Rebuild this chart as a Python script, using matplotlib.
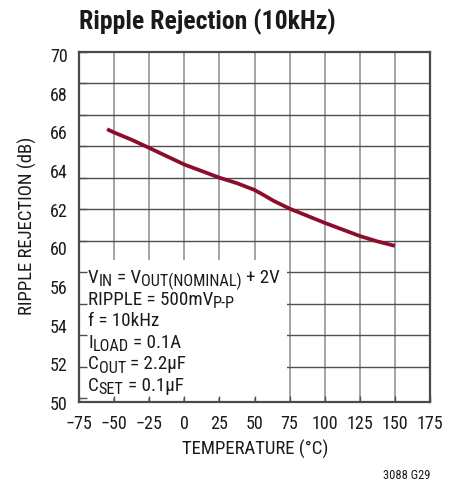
import matplotlib
matplotlib.use("Agg")
import matplotlib.pyplot as plt
from matplotlib import font_manager
from matplotlib.patches import Rectangle
import numpy as np

# Pick a condensed sans face if one is installed
def pick_font(cands):
    for c in cands:
        try:
            font_manager.findfont(c, fallback_to_default=False)
            return c
        except Exception:
            continue
    return "DejaVu Sans"

FONT = pick_font(["Liberation Sans Narrow", "Roboto Condensed", "Liberation Sans", "Roboto"])
plt.rcParams["font.family"] = [FONT, "DejaVu Sans"]

# Ripple rejection vs temperature
temperature_c = [-55, -50, -37.5, -25, 0, 25, 37.5, 50, 56, 63.4, 75, 100, 125, 137, 150]
ripple_rejection_db = [65.54, 65.35, 64.93, 64.46, 63.50, 62.74, 62.42, 62.03, 61.76, 61.41,
                       60.95, 60.13, 59.37, 59.07, 58.80]

x_ticks = [-75, -50, -25, 0, 25, 50, 75, 100, 125, 150, 175]
x_tick_labels = ["\u221275", "\u221250", "\u221225", "0", "25", "50", "75", "100", "125", "150", "175"]
y_tick_labels = ["70", "68", "66", "64", "62", "60", "56", "54", "52", "50"]

# test conditions: (text, is_subscript) runs per line
conditions = [
    [("V", 0), ("IN", 1), (" = V", 0), ("OUT(NOMINAL)", 1), (" + 2V", 0)],
    [("RIPPLE = 500mV", 0), ("P-P", 1)],
    [("f = 10kHz", 0)],
    [("I", 0), ("LOAD", 1), (" = 0.1A", 0)],
    [("C", 0), ("OUT", 1), (" = 2.2\u00b5F", 0)],
    [("C", 0), ("SET", 1), (" = 0.1\u00b5F", 0)],
]

W, H = 450, 489
fig = plt.figure(figsize=(W / 100, H / 100), dpi=100)
ax = fig.add_axes([79 / W, 1 - 403 / H, 351 / W, 350 / H])

ax.set_xlim(-75, 175)
ax.set_ylim(50, 70)

# grid: vertical lines light, horizontal lines darker
for xv in x_ticks[1:-1]:
    ax.axvline(xv, color="#9c9c9c", lw=1.3, zorder=1)
grid_y = np.linspace(50, 70, 12)
for yv in grid_y[1:-1]:
    ax.axhline(yv, color="#505050", lw=1.0, zorder=1)

# white panel behind the test conditions
ax.add_patch(Rectangle((-75, 50), 148, 8.0, facecolor="white", edgecolor="none", zorder=1.5))

ax.plot(temperature_c, ripple_rejection_db, color="#8b0d2c", lw=2.7,
        solid_capstyle="butt", solid_joinstyle="round", zorder=3)

ax.set_xticks(x_ticks)
ax.set_xticklabels(x_tick_labels)
ax.set_yticks(np.linspace(69.88, 49.78, 10))
ax.set_yticklabels(y_tick_labels)
ax.set_yticks(grid_y, minor=True)
ax.tick_params(axis="y", which="major", length=0, pad=8, labelsize=13, labelcolor="#1a1a1a")
ax.tick_params(axis="y", which="minor", direction="in", length=6, width=1, color="#505050")
ax.tick_params(axis="x", which="major", direction="in", length=4, width=1, color="#505050",
               pad=9, labelsize=13, labelcolor="#1a1a1a")

for s in ax.spines.values():
    s.set_color("#4a4a4a")
    s.set_linewidth(1.6)
    s.set_zorder(4)

fig.text(255 / W, 1 - 449 / H, "TEMPERATURE (\u00b0C)", fontsize=13.5, color="#1a1a1a",
         ha="center", va="center")
fig.text(27 / W, 1 - 226 / H, "RIPPLE REJECTION (dB)", fontsize=13.5, color="#1a1a1a",
         ha="center", va="center", rotation=90)

fig.text(79 / W, 1 - 29.5 / H, "Ripple Rejection (10kHz)", fontsize=18.5, fontweight="bold",
         color="#1a1a1a", ha="left", va="baseline")
fig.text(430 / W, 1 - 475.5 / H, "3088 G29", fontsize=9, color="#1a1a1a",
         ha="right", va="center")

# lay out the condition lines run by run, with subscripts dropped and shrunk
renderer = fig.canvas.get_renderer()
MAIN_FS, SUB_FS = 13.7, 11.7

def text_width(s, fs):
    t = fig.text(0, 0, s, fontsize=fs)
    w = t.get_window_extent(renderer).width
    t.remove()
    return w

space_w = {fs: text_width("a a", fs) - text_width("aa", fs) for fs in (MAIN_FS, SUB_FS)}

x0, base0, step = 88.0, 283.0, 21.6
for i, runs in enumerate(conditions):
    x = x0
    base = base0 + i * step
    for s, sub in runs:
        fs = SUB_FS if sub else MAIN_FS
        lead = len(s) - len(s.lstrip(" "))
        trail = len(s) - len(s.rstrip(" "))
        core = s.strip(" ")
        x += lead * space_w[fs]
        y = base + (3.5 if sub else 0)
        t = fig.text(x / W, 1 - y / H, core, fontsize=fs, color="#1a1a1a",
                     ha="left", va="baseline", zorder=5)
        x += t.get_window_extent(renderer).width + trail * space_w[fs]

fig.savefig("out.png", dpi=100)
